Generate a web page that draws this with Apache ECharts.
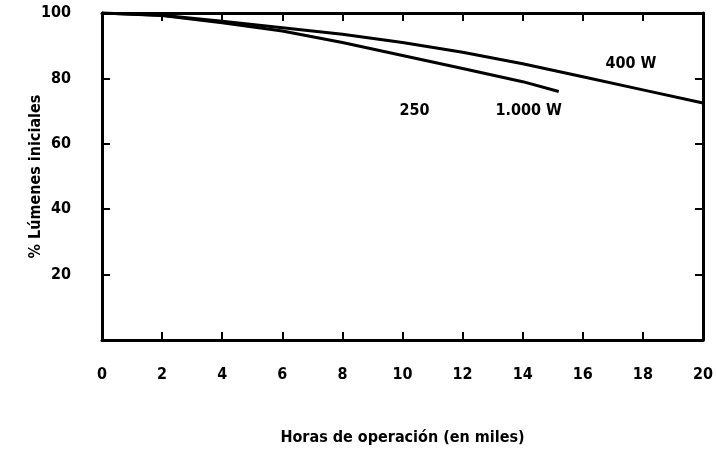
<!DOCTYPE html>
<html>
<head>
<meta charset="utf-8">
<script src="https://cdn.jsdelivr.net/npm/echarts@6/dist/echarts.min.js"></script>
<style>html,body{margin:0;padding:0;background:#fff;}#c{width:716px;height:454px;}</style>
</head>
<body>
<div id="c"></div>
<script>
const hours = [0, 2, 4, 6, 8, 10, 12, 14, 16, 18, 20];
const lum400 = [100, 99.3, 97.5, 95.5, 93.5, 91, 88, 84.5, 80.5, 76.5, 72.5];
const hoursLow = [0, 2, 4, 6, 8, 10, 12, 14, 15.2];
const lum250 = [100, 99.2, 97, 94.5, 91, 87, 83, 79, 76];
const yTicks = [0, 20, 40, 60, 80, 100];
const xName = 'Horas de operación (en miles)';
const yName = '% Lúmenes iniciales';

const font = '"Liberation Sans Narrow", "DejaVu Sans Condensed", "DejaVu Sans", sans-serif';
const chart = echarts.init(document.getElementById('c'));
const axisLine = {show: true, onZero: false, lineStyle: {color: '#000', width: 3}};
const tick = {show: true, inside: true, length: 8, lineStyle: {color: '#000', width: 2}};
chart.setOption({
  animation: false,
  backgroundColor: '#fff',
  grid: {left: 102, right: 8, top: 13, bottom: 114},
  xAxis: [{
    type: 'value', min: 0, max: 20, interval: 2,
    name: xName, nameLocation: 'middle', nameGap: 90, nameMoveOverlap: false,
    nameTextStyle: {fontFamily: font, fontWeight: 'bold', fontSize: 16, color: '#000'},
    axisLine, axisTick: tick, splitLine: {show: false},
    axisLabel: {margin: 27, fontFamily: font, fontWeight: 'bold', fontSize: 16, color: '#000'}
  }, {
    type: 'value', min: 0, max: 20, interval: 2, position: 'top',
    axisLine, axisTick: tick, splitLine: {show: false}, axisLabel: {show: false}
  }],
  yAxis: [{
    type: 'value', min: yTicks[0], max: yTicks[yTicks.length - 1], interval: 20,
    name: yName, nameLocation: 'middle', nameGap: 58, nameMoveOverlap: false,
    nameTextStyle: {fontFamily: font, fontWeight: 'bold', fontSize: 16, color: '#000'},
    axisLine, axisTick: tick, splitLine: {show: false},
    axisLabel: {margin: 31, fontFamily: font, fontWeight: 'bold', fontSize: 16, color: '#000',
      formatter: v => v === 0 ? '' : String(v)}
  }, {
    type: 'value', min: 0, max: 100, interval: 20, position: 'right',
    axisLine, axisTick: tick, splitLine: {show: false}, axisLabel: {show: false}
  }],
  series: [{
    type: 'line', name: '400 W', showSymbol: false, symbol: 'none',
    data: hours.map((h, i) => [h, lum400[i]]),
    lineStyle: {color: '#000', width: 3},
    markPoint: {
      symbol: 'circle', symbolSize: 0,
      label: {show: true, color: '#000', fontFamily: font, fontWeight: 'bold', fontSize: 16, formatter: p => p.name},
      data: [{name: '400 W', coord: [17.6, 84.4]}]
    }
  }, {
    type: 'line', name: '250 / 1.000 W', showSymbol: false, symbol: 'none',
    data: hoursLow.map((h, i) => [h, lum250[i]]),
    lineStyle: {color: '#000', width: 3},
    markPoint: {
      symbol: 'circle', symbolSize: 0,
      label: {show: true, color: '#000', fontFamily: font, fontWeight: 'bold', fontSize: 16, formatter: p => p.name},
      data: [{name: '250', coord: [10.4, 70]}, {name: '1.000 W', coord: [14.2, 70]}]
    }
  }]
});
</script>
</body>
</html>
